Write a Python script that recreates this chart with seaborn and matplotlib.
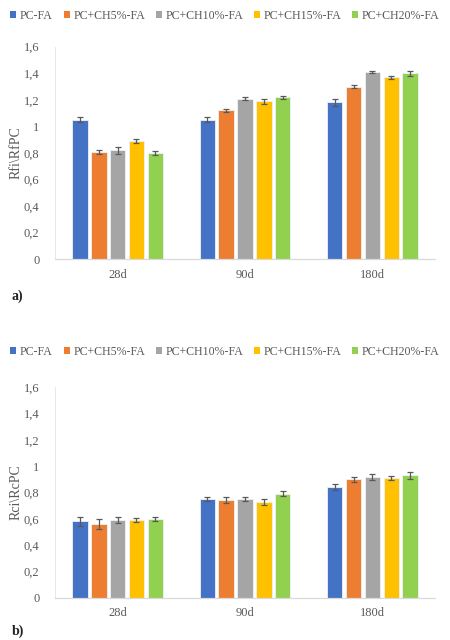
import numpy as np
import pandas as pd
import matplotlib
matplotlib.use("Agg")
import matplotlib.pyplot as plt
import seaborn as sns
from matplotlib.patches import Patch

ages = ["28d", "90d", "180d"]
series = ["PC-FA", "PC+CH5%-FA", "PC+CH10%-FA", "PC+CH15%-FA", "PC+CH20%-FA"]
colors = ["#4472C4", "#ED7D31", "#A5A5A5", "#FFC000", "#92D050"]

# chart a) Rfi\RfPC, rows = series, cols = ages
rf_pc = [1.05, 1.05, 1.18]
rf_ch5 = [0.81, 1.12, 1.30]
rf_ch10 = [0.82, 1.21, 1.41]
rf_ch15 = [0.89, 1.19, 1.37]
rf_ch20 = [0.80, 1.22, 1.40]
rf_err_pc = [0.02, 0.02, 0.025]
rf_err_ch5 = [0.015, 0.012, 0.01]
rf_err_ch10 = [0.025, 0.012, 0.01]
rf_err_ch15 = [0.012, 0.02, 0.01]
rf_err_ch20 = [0.012, 0.01, 0.02]

# chart b) Rci\RcPC
rc_pc = [0.58, 0.75, 0.84]
rc_ch5 = [0.56, 0.74, 0.90]
rc_ch10 = [0.59, 0.75, 0.92]
rc_ch15 = [0.59, 0.73, 0.91]
rc_ch20 = [0.60, 0.79, 0.93]
rc_err_pc = [0.033, 0.012, 0.023]
rc_err_ch5 = [0.038, 0.022, 0.018]
rc_err_ch10 = [0.02, 0.012, 0.023]
rc_err_ch15 = [0.015, 0.022, 0.013]
rc_err_ch20 = [0.015, 0.02, 0.025]

ytick_vals = [0, 0.2, 0.4, 0.6, 0.8, 1.0, 1.2, 1.4, 1.6]
ytick_labels = ["0", "0,2", "0,4", "0,6", "0,8", "1", "1,2", "1,4", "1,6"]

sns.set_theme(style="white")
plt.rcParams["font.family"] = ["Liberation Serif", "DejaVu Serif"]

fig = plt.figure(figsize=(4.5, 6.4), dpi=100)
ax1 = fig.add_axes([0.122, 0.595, 0.845, 0.332])
ax2 = fig.add_axes([0.122, 0.066, 0.845, 0.329])


def draw(ax, vals, errs, ylabel):
    rows = []
    for s, v, e in zip(series, vals, errs):
        for a, vv, ee in zip(ages, v, e):
            rows.append({"age": a, "series": s, "value": vv, "err": ee})
    df = pd.DataFrame(rows)
    sns.barplot(data=df, x="age", y="value", hue="series", order=ages,
                hue_order=series, palette=colors, saturation=1, errorbar=None,
                width=0.74, gap=0.18, edgecolor="#EEF2F8", linewidth=0.6,
                ax=ax, legend=False)
    for container, s in zip(ax.containers, series):
        sub = df[df["series"] == s].set_index("age").loc[ages]
        xs = [p.get_x() + p.get_width() / 2 for p in container.patches]
        ax.errorbar(xs, sub["value"].values, yerr=sub["err"].values, fmt="none",
                    ecolor="#595959", elinewidth=0.9, capsize=2.2, capthick=0.9,
                    zorder=5)
    ax.set_ylim(0, 1.6)
    ax.set_yticks(ytick_vals)
    ax.set_yticklabels(ytick_labels)
    ax.set_xlabel("")
    ax.set_ylabel(ylabel, fontsize=10, color="#595959", labelpad=1)
    ax.tick_params(axis="both", labelsize=9, colors="#595959", length=0)
    ax.tick_params(axis="x", pad=7)
    ax.tick_params(axis="y", pad=11)
    for sp in ["top", "right"]:
        ax.spines[sp].set_visible(False)
    ax.spines["bottom"].set_color("#D9D9D9")
    ax.spines["bottom"].set_linewidth(0.9)
    ax.spines["left"].set_color("#E3E3E3")
    ax.spines["left"].set_linewidth(0.6)


draw(ax1, [rf_pc, rf_ch5, rf_ch10, rf_ch15, rf_ch20],
     [rf_err_pc, rf_err_ch5, rf_err_ch10, rf_err_ch15, rf_err_ch20], "Rfi\\RfPC")
draw(ax2, [rc_pc, rc_ch5, rc_ch10, rc_ch15, rc_ch20],
     [rc_err_pc, rc_err_ch5, rc_err_ch10, rc_err_ch15, rc_err_ch20], "Rci\\RcPC")

handles = [Patch(facecolor=c, edgecolor="none") for c in colors]
for ypos in [1 - 16 / 640, 1 - 352 / 640]:
    fig.legend(handles, series, loc="center", bbox_to_anchor=(0.5, ypos),
               ncol=5, frameon=False, fontsize=8.6, handlelength=0.5,
               handleheight=0.5, handletextpad=0.3, columnspacing=0.9,
               borderpad=0, labelcolor="#595959")

fig.text(12 / 450, 1 - 296 / 640, "a)", fontsize=10, fontweight="bold",
         va="center", ha="left", color="#222222")
fig.text(12 / 450, 1 - 631 / 640, "b)", fontsize=10, fontweight="bold",
         va="center", ha="left", color="#222222")

fig.savefig("out.png", dpi=100)
